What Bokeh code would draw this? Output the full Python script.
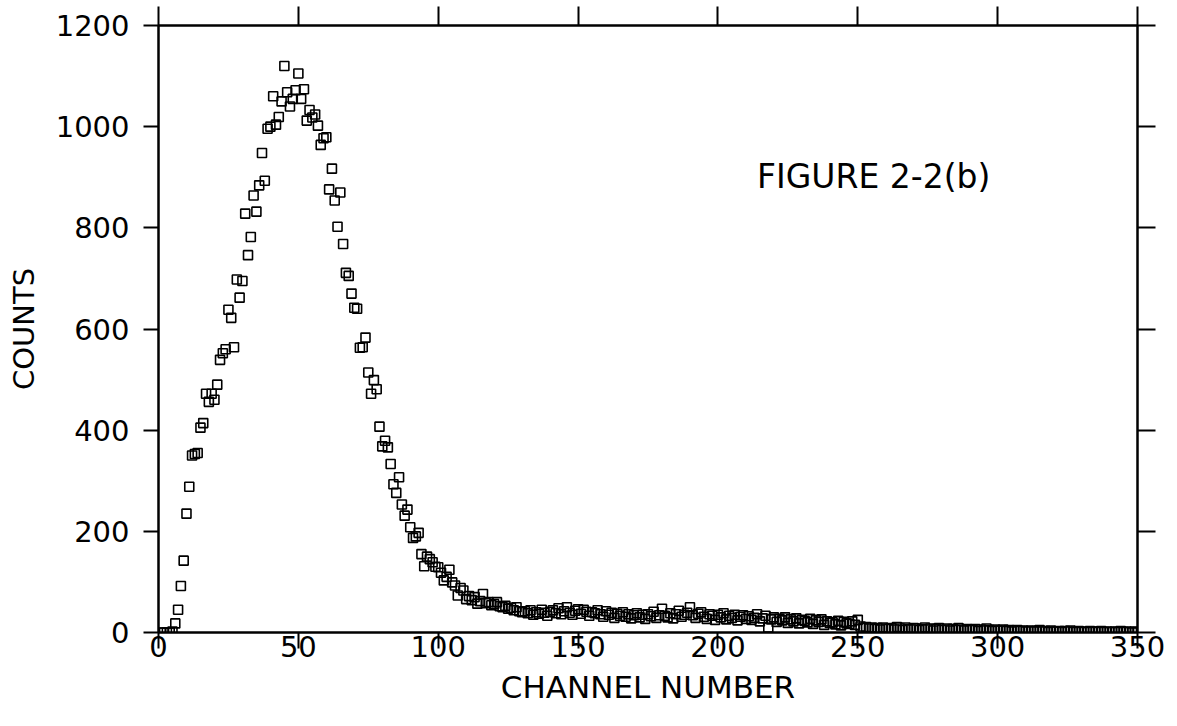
from bokeh.plotting import figure
from bokeh.models import LinearAxis, Range1d, Label, FixedTicker, CustomLabelingPolicy
from bokeh.embed import file_html
from bokeh.resources import INLINE

# ---- data ----
channels = list(range(1, 351))
counts = [
    0, 0, 0, 0, 2, 18, 45, 92, 142, 235,
    288, 350, 353, 355, 405, 414, 472, 456, 472, 460,
    490, 539, 552, 560, 638, 622, 564, 698, 662, 695,
    828, 746, 782, 864, 832, 884, 948, 893, 996, 1000,
    1060, 1004, 1019, 1050, 1120, 1068, 1040, 1055, 1072, 1105,
    1055, 1074, 1012, 1033, 1018, 1024, 1002, 964, 977, 979,
    876, 917, 854, 802, 870, 768, 711, 705, 670, 642,
    640, 563, 564, 583, 514, 472, 499, 481, 407, 368,
    379, 366, 333, 293, 276, 307, 253, 231, 243, 208,
    187, 190, 197, 155, 131, 150, 145, 139, 130, 129,
    118, 103, 110, 124, 99, 93, 73, 88, 83, 66,
    72, 64, 70, 57, 62, 76, 58, 60, 54, 56,
    60, 52, 50, 53, 47, 49, 44, 50, 42, 40,
    42, 38, 44, 35, 40, 37, 45, 39, 33, 41,
    44, 38, 48, 36, 42, 50, 39, 35, 43, 46,
    37, 45, 41, 33, 40, 38, 44, 36, 31, 42,
    35, 39, 29, 37, 33, 40, 31, 36, 28, 34,
    38, 30, 35, 27, 36, 32, 41, 29, 34, 47,
    33, 30, 38, 28, 36, 43, 31, 35, 39, 50,
    34, 29, 37, 40, 31, 27, 36, 33, 25, 35,
    30, 38, 26, 33, 29, 35, 24, 31, 34, 27,
    32, 25, 29, 36, 22, 28, 33, 10, 26, 30,
    21, 27, 24, 30, 19, 26, 22, 28, 18, 25,
    23, 20, 27, 17, 24, 21, 26, 15, 22, 19,
    20, 16, 23, 14, 21, 18, 17, 22, 15, 25,
    12, 9, 11, 8, 10, 7, 9, 6, 10, 8,
    7, 9, 6, 11, 8, 5, 10, 7, 6, 9,
    8, 5, 7, 10, 6, 8, 4, 7, 9, 5,
    6, 8, 4, 7, 5, 9, 6, 4, 7, 5,
    5, 7, 3, 6, 4, 8, 5, 3, 6, 4,
    4, 6, 3, 5, 2, 4, 5, 3, 4, 2,
    3, 4, 2, 3, 5, 2, 3, 1, 4, 2,
    2, 3, 1, 3, 2, 4, 1, 2, 3, 1,
    2, 1, 3, 2, 1, 2, 3, 1, 2, 1,
    1, 2, 1, 3, 1, 2, 1, 0, 2, 1,
]
x_ticks = [0, 50, 100, 150, 200, 250, 300, 350]
y_ticks = [0, 200, 400, 600, 800, 1000, 1200]
x_label = "CHANNEL NUMBER"
y_label = "COUNTS"
fig_text = "FIGURE 2-2(b)"

FONT = "DejaVu Sans"

p = figure(width=1177, height=726, x_range=Range1d(0, 350), y_range=Range1d(0, 1200),
           output_backend="svg", toolbar_location=None,
           min_border_left=158, min_border_right=40, min_border_top=25, min_border_bottom=94)
p.grid.visible = False
p.outline_line_color = "black"
p.outline_line_width = 2
p.background_fill_color = "white"
p.border_fill_color = "white"

p.scatter(channels, counts, marker="square", size=9, fill_color=None,
          line_color="black", line_width=1.6)

hide_all = CustomLabelingPolicy(code="""
for (let i = 0; i < indices.size; i++) { indices.unset(i) }
return indices
""")


def style(ax, ticks, labels=True, tick_out=16, standoff=10):
    ax.ticker = FixedTicker(ticks=ticks)
    ax.axis_line_color = "black"
    ax.axis_line_width = 2
    ax.major_tick_line_color = "black"
    ax.major_tick_line_width = 2
    ax.major_tick_out = tick_out
    ax.major_tick_in = 0
    ax.minor_tick_out = 0
    ax.minor_tick_in = 0
    ax.major_label_text_font = FONT
    ax.major_label_text_color = "black"
    ax.major_label_standoff = standoff
    if labels:
        ax.major_label_text_font_size = "29px"
    else:
        ax.major_label_text_font_size = "0px"
        ax.major_label_policy = hide_all


style(p.xaxis[0], x_ticks, tick_out=16, standoff=-13)
style(p.yaxis[0], y_ticks, tick_out=15, standoff=14)
p.xaxis[0].axis_label = x_label
p.xaxis[0].axis_label_text_font = FONT
p.xaxis[0].axis_label_text_font_size = "31px"
p.xaxis[0].axis_label_text_font_style = "normal"
p.xaxis[0].axis_label_text_color = "black"
p.xaxis[0].axis_label_standoff = 9
p.yaxis[0].axis_label = y_label
p.yaxis[0].axis_label_text_font = FONT
p.yaxis[0].axis_label_text_font_size = "29px"
p.yaxis[0].axis_label_text_font_style = "normal"
p.yaxis[0].axis_label_text_color = "black"
p.yaxis[0].axis_label_standoff = 12

top = LinearAxis()
style(top, x_ticks, labels=False, tick_out=19, standoff=0)
p.add_layout(top, "above")
right = LinearAxis()
style(right, y_ticks, labels=False, tick_out=18, standoff=0)
p.add_layout(right, "right")

p.add_layout(Label(x=214, y=862, text=fig_text, text_font=FONT, text_font_size="33px",
                   text_color="black", text_baseline="bottom"))

open("out.html", "w").write(file_html(p, INLINE))
